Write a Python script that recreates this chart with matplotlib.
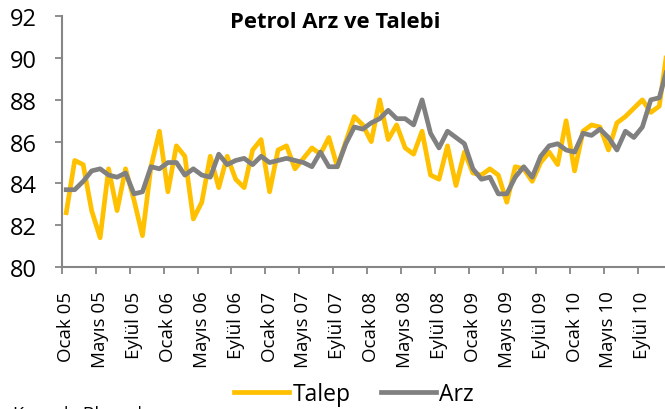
import matplotlib
matplotlib.use("Agg")
import matplotlib.pyplot as plt
import numpy as np

plt.rcParams['font.family'] = ['Open Sans', 'DejaVu Sans']

# Monthly data, Ocak 05 .. Aralık 10
talep = [82.6, 85.1, 84.9, 82.7, 81.4, 84.7, 82.7, 84.7, 83.2, 81.5, 84.8, 86.5,
         83.6, 85.8, 85.3, 82.3, 83.1, 85.3, 83.8, 85.3, 84.2, 83.8, 85.6, 86.1,
         83.6, 85.6, 85.8, 84.7, 85.2, 85.7, 85.4, 86.2, 84.8, 86.0, 87.2, 86.8,
         86.0, 88.0, 86.1, 86.8, 85.7, 85.4, 86.5, 84.4, 84.2, 85.8, 83.9, 85.5,
         84.5, 84.4, 84.7, 84.4, 83.1, 84.8, 84.7, 84.1, 85.0, 85.5, 84.9, 87.0,
         84.6, 86.5, 86.8, 86.7, 85.6, 86.9, 87.2, 87.6, 88.0, 87.4, 87.7, 90.6]
arz = [83.7, 83.7, 84.1, 84.6, 84.7, 84.4, 84.3, 84.5, 83.5, 83.6, 84.8, 84.7,
       85.0, 85.0, 84.4, 84.7, 84.4, 84.3, 85.4, 84.9, 85.1, 85.2, 84.9, 85.3,
       85.0, 85.1, 85.2, 85.1, 85.0, 84.8, 85.5, 84.8, 84.8, 85.9, 86.7, 86.6,
       86.9, 87.1, 87.5, 87.1, 87.1, 86.8, 88.0, 86.4, 85.7, 86.5, 86.2, 85.9,
       84.7, 84.2, 84.3, 83.5, 83.5, 84.3, 84.8, 84.3, 85.3, 85.8, 85.9, 85.6,
       85.5, 86.4, 86.3, 86.6, 86.2, 85.6, 86.5, 86.2, 86.7, 88.0, 88.1, 89.6]
tick_labels = ["Ocak 05", "Mayıs 05", "Eylül 05", "Ocak 06", "Mayıs 06", "Eylül 06",
               "Ocak 07", "Mayıs 07", "Eylül 07", "Ocak 08", "Mayıs 08", "Eylül 08",
               "Ocak 09", "Mayıs 09", "Eylül 09", "Ocak 10", "Mayıs 10", "Eylül 10"]
series_names = ["Talep", "Arz"]
title = "Petrol Arz ve Talebi"
source = "Kaynak: Bloomberg"

W, H = 665, 410
fig = plt.figure(figsize=(W / 100, H / 100), dpi=100)
ax = fig.add_axes([62 / W, 1 - 268 / H, 610 / W, (268 - 17.3) / H])

x = np.arange(len(talep))
ax.plot(x, talep, color='#FFC000', lw=3.4, solid_joinstyle='round', label=series_names[0])
ax.plot(x, arz, color='#808080', lw=3.4, solid_joinstyle='round', label=series_names[1])

ax.set_xlim(-0.5, len(talep) - 0.5)
ax.set_ylim(80, 92)
ax.set_yticks(np.arange(80, 93, 2))
ax.tick_params(axis='y', length=5, width=1.3, color='#868686', pad=13,
               labelsize=17, labelcolor='black')

# boundary ticks every 4 months, labels centred on the category
ax.set_xticks(np.arange(-0.5, len(talep), 4))
ax.set_xticklabels([])
ax.set_xticks(np.arange(0, len(tick_labels) * 4, 4), minor=True)
ax.set_xticklabels(tick_labels, minor=True, rotation=90, va='top', ha='center')
ax.tick_params(axis='x', which='major', length=5, width=1.3, color='#868686')
ax.tick_params(axis='x', which='minor', length=0, pad=17, labelsize=13.5)

for s in ['top', 'right']:
    ax.spines[s].set_visible(False)
for s in ['left', 'bottom']:
    ax.spines[s].set_color('#868686')
    ax.spines[s].set_linewidth(1.5)

fig.text(335 / W, 1 - 27.5 / H, title, ha='center', va='baseline',
         fontsize=15.8, fontweight='bold')

fig.legend(loc='center', bbox_to_anchor=(354 / W, 1 - 395 / H), ncol=2,
           frameon=False, fontsize=16.5, handlelength=2.4, handletextpad=0.15,
           columnspacing=1.3, borderpad=0, borderaxespad=0)

fig.text(13 / W, 1 - 420 / H, source, ha='left', va='baseline', fontsize=13)

fig.savefig("out.png", dpi=100)
